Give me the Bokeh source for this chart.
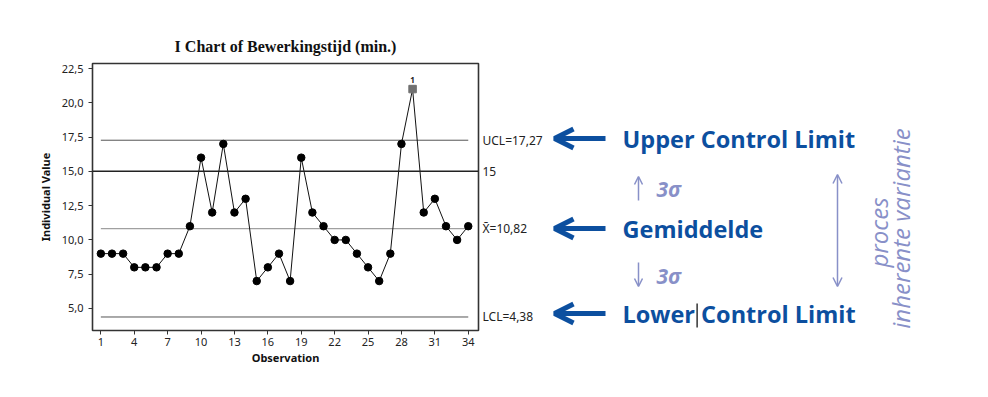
import math
from bokeh.plotting import figure
from bokeh.models import (Range1d, FixedTicker, LinearAxis, Span, Label, Arrow,
                          OpenHead, BoxAnnotation)
from bokeh.layouts import row
from bokeh.embed import file_html
from bokeh.resources import INLINE

# ---------------- data ----------------
observation = list(range(1, 35))
values = [9, 9, 9, 8, 8, 8, 9, 9, 11, 16, 12, 17, 12, 13, 7, 8, 9, 7, 16, 12,
          11, 10, 10, 9, 8, 7, 9, 17, 21, 12, 13, 11, 10, 11]
out_of_control = [29]          # observation flagged by test 1
ucl = 17.27
mean = 10.82
lcl = 4.38
target = 15
x_ticks = [1, 4, 7, 10, 13, 16, 19, 22, 25, 28, 31, 34]
y_ticks = [5.0, 7.5, 10.0, 12.5, 15.0, 17.5, 20.0, 22.5]
y_tick_labels = ["5,0", "7,5", "10,0", "12,5", "15,0", "17,5", "20,0", "22,5"]
right_ticks = [ucl, target, mean, lcl]
right_labels = ["UCL=17,27", "15", "X\u0304=10,82", "LCL=4,38"]

BLUE = "#0c4f9f"
LIGHT = "#8890c8"
TICK_FONT = "Noto Sans"

W, H = 988, 397
LEFT_W = 548
FRAME_L, FRAME_R, FRAME_T, FRAME_B = 92, 478, 63, 330

# ---------------- chart ----------------
p = figure(width=LEFT_W, height=H, output_backend="svg", toolbar_location=None,
           x_range=Range1d(0.25, 34.92), y_range=Range1d(3.395, 22.865),
           min_border_left=FRAME_L, min_border_right=LEFT_W - FRAME_R,
           min_border_top=FRAME_T, min_border_bottom=H - FRAME_B,
           title="I Chart of Bewerkingstijd (min.)")
p.title.text_font = "Liberation Serif"
p.title.text_font_size = "16px"
p.title.text_font_style = "bold"
p.title.align = "center"
p.title.text_color = "#111111"
p.title.standoff = 17
p.xgrid.visible = False
p.ygrid.visible = False
p.outline_line_color = "#333333"
p.outline_line_width = 1.6
p.background_fill_color = "white"
p.border_fill_color = "white"

for ax in (p.xaxis[0], p.yaxis[0]):
    ax.axis_line_color = None
    ax.major_tick_in = 0
    ax.major_tick_out = 4
    ax.minor_tick_line_color = None
    ax.major_tick_line_color = "#333333"
    ax.major_label_text_font = TICK_FONT
    ax.major_label_text_font_size = "11px"
    ax.major_label_text_color = "#222222"
    ax.axis_label_text_font = TICK_FONT
    ax.axis_label_text_font_size = "11px"
    ax.axis_label_text_font_style = "bold"
    ax.axis_label_text_color = "#111111"

p.xaxis.ticker = FixedTicker(ticks=x_ticks)
p.xaxis.axis_label = "Observation"
p.xaxis.major_label_standoff = 3
p.xaxis.axis_label_standoff = 1
p.yaxis.ticker = FixedTicker(ticks=y_ticks)
p.yaxis.major_label_overrides = {t: l for t, l in zip(y_ticks, y_tick_labels)}
p.yaxis.axis_label = "Individual Value"
p.yaxis.major_label_standoff = 5
p.yaxis.axis_label_standoff = 6

right_axis = LinearAxis(ticker=FixedTicker(ticks=right_ticks),
                        major_label_overrides={t: l for t, l in zip(right_ticks, right_labels)},
                        axis_line_color=None, major_tick_line_color=None,
                        major_tick_in=0, major_tick_out=0,
                        minor_tick_line_color=None, major_label_standoff=4,
                        major_label_text_font=TICK_FONT,
                        major_label_text_font_size="12px",
                        major_label_text_color="#222222")
p.add_layout(right_axis, "right")

# control lines
first, last = observation[0], observation[-1]
p.line([first, last], [ucl, ucl], line_color="#555555", line_width=1)
p.line([first, last], [mean, mean], line_color="#a0a0a0", line_width=1.2)
p.line([first, last], [lcl, lcl], line_color="#555555", line_width=1)
p.add_layout(Span(location=target, dimension="width", line_color="#222222",
                  line_width=1.5))

# data
p.line(observation, values, line_color="#111111", line_width=1)
in_x = [o for o in observation if o not in out_of_control]
in_y = [v for o, v in zip(observation, values) if o not in out_of_control]
out_x = [o for o in observation if o in out_of_control]
out_y = [v for o, v in zip(observation, values) if o in out_of_control]
p.scatter(in_x, in_y, marker="circle", size=7.5, fill_color="black",
          line_color="black")
p.scatter(out_x, out_y, marker="square", size=7.5, fill_color="#707070",
          line_color="#707070")
for ox, oy in zip(out_x, out_y):
    p.add_layout(Label(x=ox, y=oy, text="1", y_offset=6, text_align="center",
                       text_baseline="bottom", text_font=TICK_FONT,
                       text_font_size="8px", text_font_style="bold",
                       text_color="#222222"))

# ---------------- explanatory panel (page pixel coordinates) ----------------
q = figure(width=W - LEFT_W, height=H, output_backend="svg",
           toolbar_location=None,
           x_range=Range1d(LEFT_W, W), y_range=Range1d(FRAME_B, FRAME_T),
           min_border_left=0, min_border_right=0,
           min_border_top=FRAME_T, min_border_bottom=H - FRAME_B,
           x_axis_location=None, y_axis_location=None)
q.xgrid.visible = False
q.ygrid.visible = False
q.outline_line_color = None
q.background_fill_color = "white"
q.border_fill_color = "white"

for ty, txt in [(138, "Upper Control Limit"), (228, "Gemiddelde"),
                (313, "Lower Control Limit")]:
    q.add_layout(Arrow(x_start=605, y_start=ty, x_end=554, y_end=ty,
                       line_color=BLUE, line_width=5,
                       end=OpenHead(size=19, line_color=BLUE, line_width=5)))
    q.add_layout(Label(x=622, y=ty, text=txt, text_align="left",
                       text_baseline="middle", text_font="Open Sans",
                       text_font_size="23.5px", text_font_style="bold",
                       text_color=BLUE))

# 3 sigma
q.add_layout(Arrow(x_start=638, y_start=200, x_end=638, y_end=176,
                   line_color=LIGHT, line_width=1.5,
                   end=OpenHead(size=8, line_color=LIGHT, line_width=1.5)))
q.add_layout(Arrow(x_start=638, y_start=262, x_end=638, y_end=286,
                   line_color=LIGHT, line_width=1.5,
                   end=OpenHead(size=8, line_color=LIGHT, line_width=1.5)))
for ty in (188, 275):
    q.add_layout(Label(x=656, y=ty, text="3\u03c3", text_align="left",
                       text_baseline="middle", text_font="Open Sans",
                       text_font_size="21px", text_font_style="bold italic",
                       text_color=LIGHT))

# double arrow
q.add_layout(Arrow(x_start=837, y_start=174, x_end=837, y_end=286,
                   line_color=LIGHT, line_width=1.5,
                   start=OpenHead(size=9, line_color=LIGHT, line_width=1.5),
                   end=OpenHead(size=9, line_color=LIGHT, line_width=1.5)))

q.add_layout(Label(x=878, y=232, text="proces", angle=math.pi / 2,
                   text_align="center", text_baseline="middle",
                   text_font="Open Sans", text_font_size="24px",
                   text_font_style="italic", text_color=LIGHT))
q.add_layout(Label(x=900, y=228, text="inherente variantie", angle=math.pi / 2,
                   text_align="center", text_baseline="middle",
                   text_font="Open Sans", text_font_size="24px",
                   text_font_style="italic", text_color=LIGHT))

# text cursor seen in the reference
q.add_layout(BoxAnnotation(left=696, right=697.2, top=303, bottom=327,
                           fill_color="black", fill_alpha=1, line_color=None))

open("out.html", "w").write(file_html(row(p, q), INLINE))
